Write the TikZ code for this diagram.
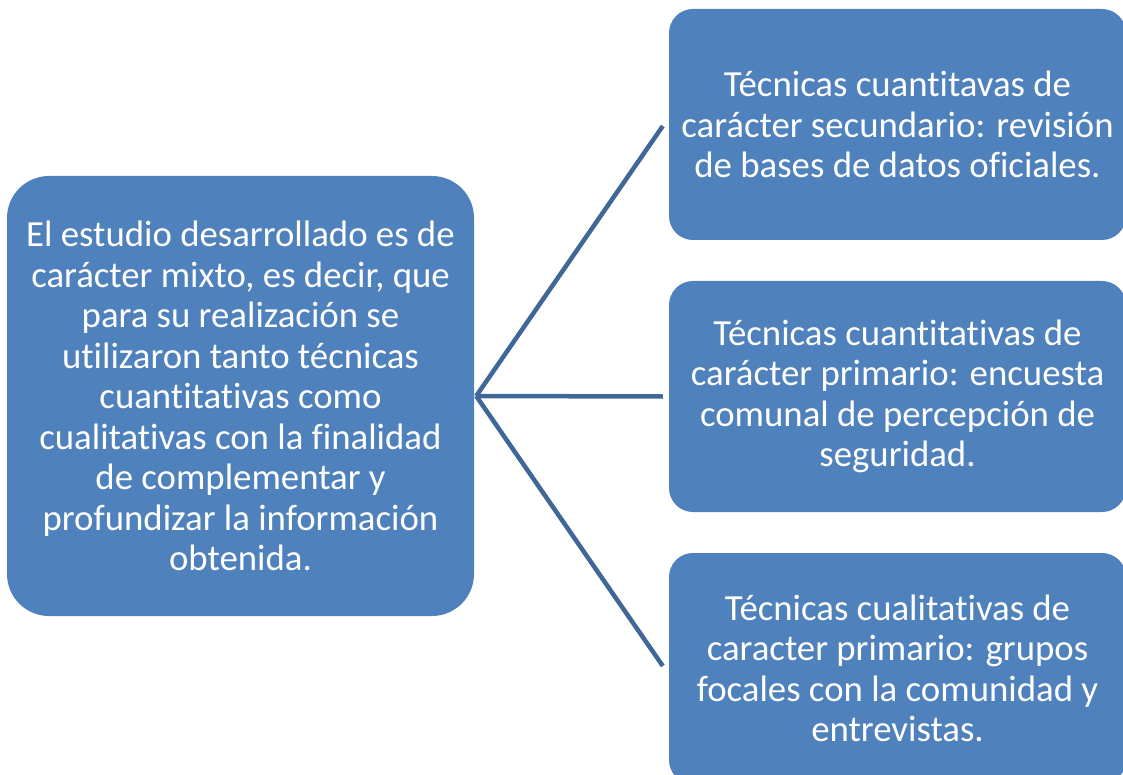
\documentclass[tikz,border=0pt]{standalone}
\usepackage{fontspec}
\setmainfont{Carlito}[Ligatures={NoCommon,NoContextual,NoRare},RawFeature={-liga;-clig;-dlig}]
\usepackage{xcolor}
\definecolor{boxblue}{HTML}{4F81BD}
\definecolor{lineblue}{HTML}{3F6797}

\begin{document}
\begin{tikzpicture}[x=1pt,y=-1pt,
    every node/.style={fill=boxblue,text=white,align=center,inner sep=0pt,
        font=\fontsize{36.8}{40.5}\selectfont},
    tecbox/.style={minimum width=457pt,minimum height=231pt,rounded corners=24pt},
    link/.style={draw=lineblue,line width=4.5pt}]
    \useasboundingbox (0,0) rectangle (1123,775);

    \node[minimum width=467pt,minimum height=440pt,rounded corners=42pt] (main) at (240.5,396)
        {El estudio desarrollado es de\\carácter mixto, es decir, que\\para su realización se\\utilizaron tanto técnicas\\cuantitativas como\\cualitativas con la finalidad\\de complementar y\\profundizar la información\\obtenida.};
    \node[tecbox] (tec1) at (897.5,124.5)
        {Técnicas cuantitavas de\\carácter secundario: revisión\\de bases de datos oficiales.};
    \node[tecbox] (tec2) at (897.5,396.5)
        {Técnicas cuantitativas de\\carácter primario: encuesta\\comunal de percepción de\\seguridad.};
    \node[tecbox] (tec3) at (897.5,668.5)
        {Técnicas cualitativas de\\caracter primario: grupos\\focales con la comunidad y\\entrevistas.};

    \coordinate (hub) at ([xshift=2pt]main.east);

    \path [link] (hub) edge ([xshift=-6pt,yshift=-1.5pt]tec1.west);
    \path [link] (hub) edge ([xshift=-6pt]tec2.west);
    \path [link] (hub) edge ([xshift=-6pt,yshift=2.5pt]tec3.west);
\end{tikzpicture}
\end{document}
